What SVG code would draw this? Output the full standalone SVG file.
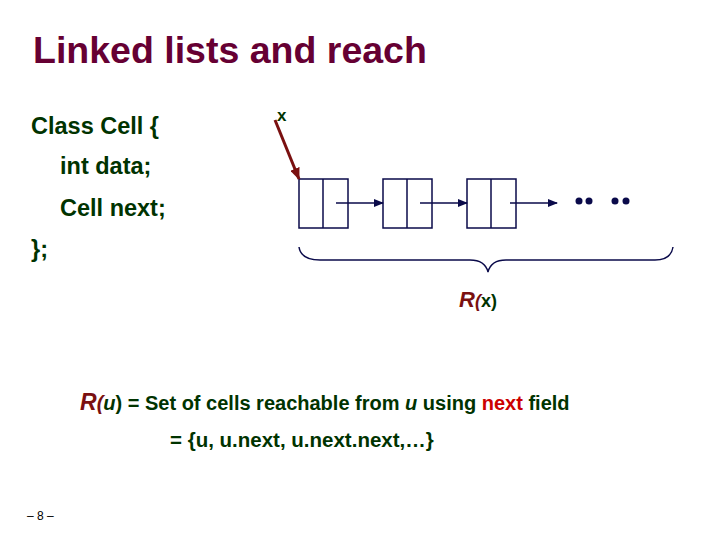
<svg xmlns="http://www.w3.org/2000/svg" width="720" height="540" viewBox="0 0 720 540">
<style>
text{font-family:"Liberation Sans",Arial,sans-serif;font-weight:bold;fill:#003300}
.t{font-size:37.5px;fill:#660033}
.b{font-size:23.5px}
.c{fill:none;stroke:#0a0a4a;stroke-width:1.5}
.r{fill:#7a1010}
</style>
<defs>
<marker id="a" markerWidth="10" markerHeight="8" refX="9" refY="4" orient="auto" markerUnits="userSpaceOnUse"><path d="M0,0L10,4L0,8z" fill="#0a0a4a"/></marker>
<marker id="ar" markerWidth="12" markerHeight="10" refX="11" refY="5" orient="auto" markerUnits="userSpaceOnUse"><path d="M0,0L12,5L0,10z" fill="#7a1010"/></marker>
</defs>
<rect width="720" height="540" fill="#fff"/>
<text class="t" x="33" y="63">Linked lists and reach</text>
<text class="b" x="31" y="134">Class Cell {</text>
<text class="b" x="60" y="174">int data;</text>
<text class="b" x="60" y="216">Cell next;</text>
<text class="b" x="31" y="257">};</text>
<text x="277" y="121" style="font-size:17px">x</text>
<g id="cell1"><rect class="c" x="299" y="179" width="49" height="49"/><line class="c" x1="323" y1="179" x2="323" y2="228"/></g>
<g id="cell2"><rect class="c" x="383" y="179" width="49" height="49"/><line class="c" x1="407" y1="179" x2="407" y2="228"/></g>
<g id="cell3"><rect class="c" x="467" y="179" width="49" height="49"/><line class="c" x1="491" y1="179" x2="491" y2="228"/></g>
<g id="dots" fill="#0a0a4a"><circle cx="579" cy="201" r="3.5"/><circle cx="589" cy="201" r="3.5"/><circle cx="615" cy="201" r="3.5"/><circle cx="626" cy="201" r="3.5"/></g>
<g id="connectors">
<line x1="275" y1="120" x2="299" y2="179" stroke="#7a1010" stroke-width="3" marker-end="url(#ar)"/>
<line class="c" x1="336" y1="203" x2="383" y2="203" marker-end="url(#a)"/>
<line class="c" x1="420" y1="203" x2="467" y2="203" marker-end="url(#a)"/>
<line class="c" x1="510" y1="203" x2="557" y2="203" marker-end="url(#a)"/>
<path class="c" d="M299,247 Q301,260 320,260 L470,260 Q485,260 488,272 Q491,260 506,260 L655,260 Q671,260 673,247"/>
</g>
<text x="459" y="307" style="font-size:22px"><tspan class="r" font-style="italic">R</tspan><tspan class="r" font-style="italic" font-size="18">(</tspan><tspan font-size="18">x)</tspan></text>
<text x="80" y="410" style="font-size:20px"><tspan class="r" font-style="italic" font-size="23">R</tspan><tspan class="r" font-style="italic">(</tspan><tspan font-style="italic">u</tspan>) = Set of cells reachable from <tspan font-style="italic">u</tspan> using <tspan fill="#cc0000">next</tspan> field</text>
<text x="170" y="447" style="font-size:20.5px">= {u, u.next, u.next.next,…}</text>
<text x="27" y="520" style="font-size:12px;font-weight:normal;fill:#000">– 8 –</text>
</svg>
